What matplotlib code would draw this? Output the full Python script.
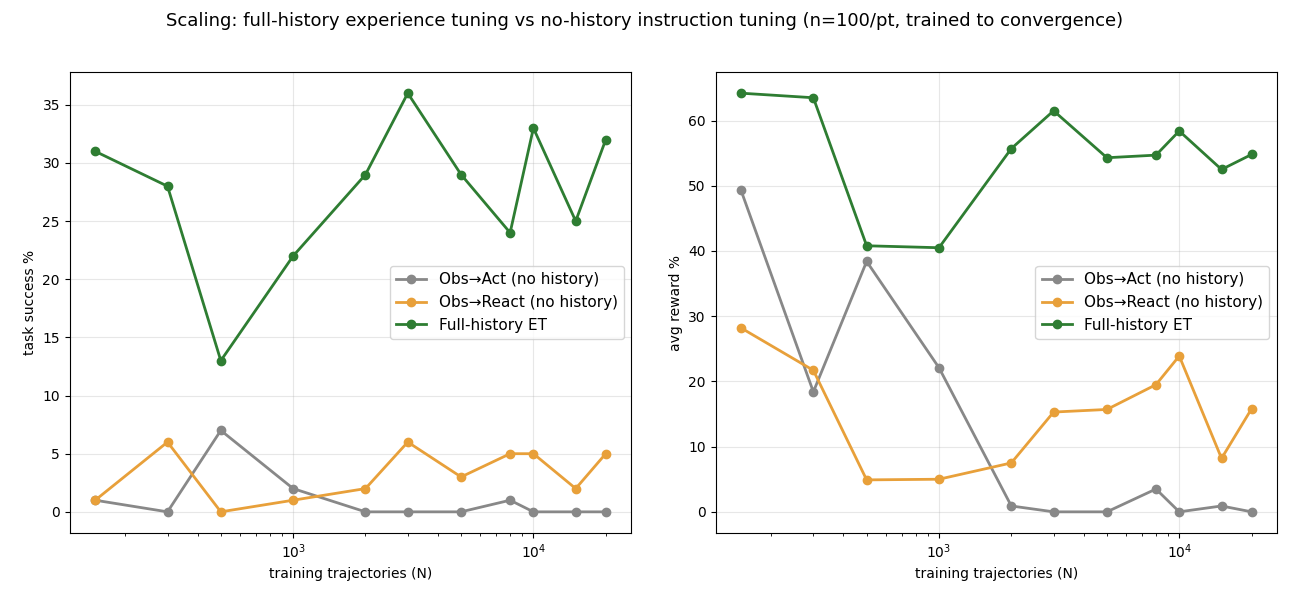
import matplotlib.pyplot as plt

N = [150, 300, 500, 1000, 2000, 3000, 5000, 8000, 10000, 15000, 20000]

succ_act = [1, 0, 7, 2, 0, 0, 0, 1, 0, 0, 0]
succ_react = [1, 6, 0, 1, 2, 6, 3, 5, 5, 2, 5]
succ_et = [31, 28, 13, 22, 29, 36, 29, 24, 33, 25, 32]

rew_act = [49.3, 18.4, 38.4, 22.1, 0.9, 0, 0, 3.5, 0, 0.9, 0]
rew_react = [28.2, 21.7, 4.9, 5.0, 7.5, 15.3, 15.7, 19.5, 23.9, 8.2, 15.8]
rew_et = [64.2, 63.5, 40.8, 40.5, 55.7, 61.5, 54.3, 54.7, 58.4, 52.5, 54.8]

fig, axes = plt.subplots(1, 2, figsize=(12.9, 6.02), dpi=100)
panels = [(axes[0], succ_act, succ_react, succ_et, "task success %"),
          (axes[1], rew_act, rew_react, rew_et, "avg reward %")]
for ax, a, r, e, ylab in panels:
    ax.plot(N, a, "o-", color="#888888", lw=2, ms=6, label="Obs\u2192Act (no history)")
    ax.plot(N, r, "o-", color="#e8a03a", lw=2, ms=6, label="Obs\u2192React (no history)")
    ax.plot(N, e, "o-", color="#2e7d32", lw=2, ms=6, label="Full-history ET")
    ax.set_xscale("log")
    ax.set_xlabel("training trajectories (N)")
    ax.set_ylabel(ylab)
    ax.grid(True, alpha=0.3)
    ax.legend(loc="center right", fontsize=11)

fig.suptitle("Scaling: full-history experience tuning vs no-history instruction tuning (n=100/pt, trained to convergence)", fontsize=13)
fig.subplots_adjust(left=0.054, right=0.99, top=0.88, bottom=0.115, wspace=0.15)
fig.savefig("out.png")
